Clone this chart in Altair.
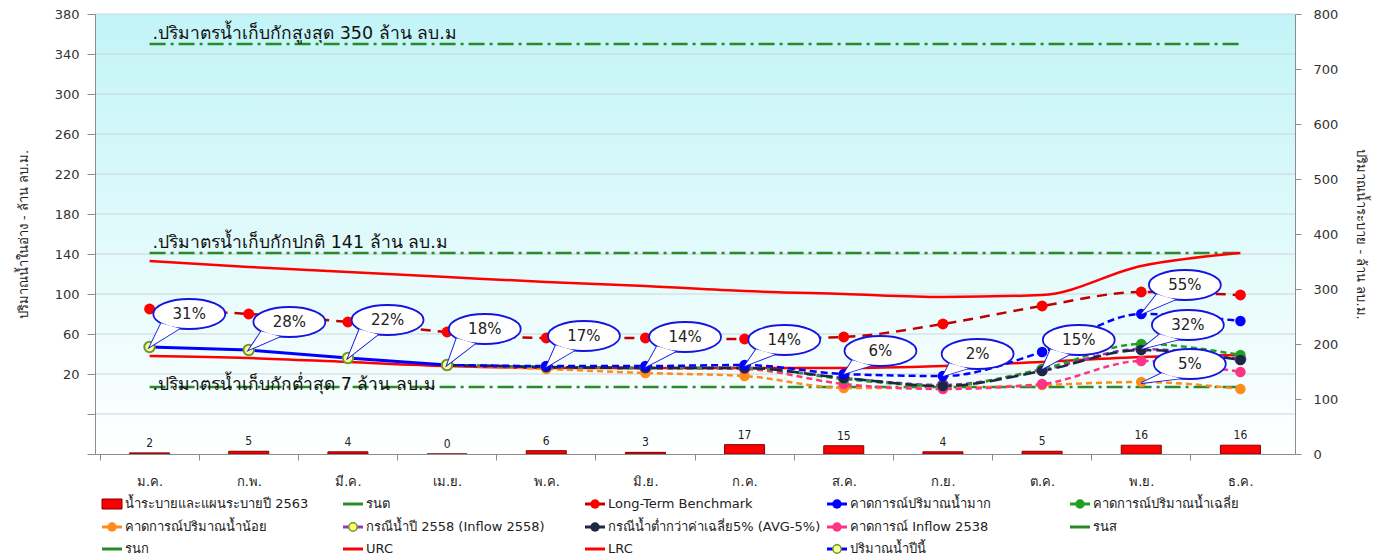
import math
import altair as alt
import pandas as pd

# ---------------- data ----------------
MONTHS = ["ม.ค.", "ก.พ.", "มี.ค.", "เม.ย.", "พ.ค.", "มิ.ย.", "ก.ค.", "ส.ค.", "ก.ย.", "ต.ค.", "พ.ย.", "ธ.ค."]
RELEASE = [2, 5, 4, 0, 6, 3, 17, 15, 4, 5, 16, 16]          # right axis
URC = [133, 127, 122, 117, 112, 108, 103, 100, 97, 99, 128, 141]
LRC = [38, 36, 32, 28, 26, 26, 26, 26, 28, 32, 37, 39]
BENCH = [85, 80, 72, 62, 56, 56, 55, 57, 70, 88, 102, 99]
CURRENT = [47, 44, 36, 29]                                    # ม.ค. - เม.ย.
FC_START = 3                                                  # forecasts start at เม.ย.
HIGH = [29, 28, 28, 29, 20, 18, 42, 80, 73]
AVG = [29, 27, 26, 26, 15, 8, 25, 50, 39]
LOW = [29, 25, 21, 18, 6, 6, 9, 12, 5]
Y2558 = [29, 27, 26, 26, 16, 9, 24, 45, 35]
AVG5 = [29, 27, 26, 26, 16, 8, 23, 44, 34]
INF2538 = [29, 27, 26, 25, 10, 5, 10, 33, 22]

THRESH_VALUES = [350, 141, 7]
THRESH_TEXT = [".ปริมาตรน้ำเก็บกักสูงสุด 350 ล้าน ลบ.ม",
               ".ปริมาตรน้ำเก็บกักปกติ 141 ล้าน ลบ.ม",
               ".ปริมาตรน้ำเก็บกักต่ำสุด 7 ล้าน ลบ.ม"]

CALL_TEXT = ["31%", "28%", "22%", "18%", "17%", "14%", "14%", "6%", "2%", "15%", "55%", "32%", "5%"]
CALL_MONTH = [0, 1, 2, 3, 4, 5, 6, 7, 8, 9, 10, 10, 10]
CALL_ANCHOR = [47, 44, 36, 29, 27, 27, 28, 20, 18, 25, 80, 45, 11]
CALL_BUBBLE = [80, 72, 74, 65, 58, 57, 54, 43, 40, 54, 109, 69, 30]
CALL_DX = [40, 41, 40, 38, 38, 40, 40, 37, 35, 37, 44, 47, 49]

LEFT_TITLE = "ปริมาณน้ำในอ่าง - ล้าน ลบ.ม."
RIGHT_TITLE = "ปริมาณน้ำระบาย - ล้าน ลบ.ม."
LEFT_TICKS = list(range(-60, 381, 40))
RIGHT_TICKS = list(range(0, 801, 100))

# ---------------- geometry / style ----------------
W, H = 1200, 440
Y_MIN, Y_MAX, R_MAX = -60, 380, 800
PX_Y = H / (Y_MAX - Y_MIN)
PX_X = W / len(MONTHS)
FONT = "DejaVu Sans"
NARROW = "DejaVu Sans Condensed, Liberation Sans Narrow, Liberation Sans, sans-serif"
GREEN = "#2A8A2A"
RED = "#FF0000"
AXIS_GRAY = "#8C8C8C"
PAD_LEFT, PAD_TOP = 87, 6


def x_scale():
    return alt.Scale(domain=[-0.5, len(MONTHS) - 0.5], nice=False, zero=False)


def y_scale():
    return alt.Scale(domain=[Y_MIN, Y_MAX], nice=False, zero=False)


def r_scale():
    return alt.Scale(domain=[0, R_MAX], nice=False, zero=False)


def x_axis():
    return alt.Axis(
        values=list(range(len(MONTHS))), labelExpr=f"{MONTHS}[datum.value]",
        tickOffset=-PX_X / 2, labelOffset=PX_X / 2, title=None, grid=False, zindex=1,
        domainColor=AXIS_GRAY, tickColor=AXIS_GRAY, tickSize=6, labelPadding=15,
        labelFontSize=13, labelColor="#222222", labelFont=FONT)


def xq(field="m"):
    return alt.X(f"{field}:Q", scale=x_scale(), axis=x_axis())


def yq(field="v"):
    return alt.Y(f"{field}:Q", scale=y_scale(), axis=None)


def series_df(start, values):
    return pd.DataFrame({"m": list(range(start, start + len(values))), "v": values})


layers = []

# background gradient
bg = alt.Chart(pd.DataFrame({"a": [0]})).mark_rect(
    fill=alt.LinearGradient(
        gradient="linear",
        stops=[alt.GradientStop(color="#C2F4F7", offset=0),
               alt.GradientStop(color="#E6FBFC", offset=0.6),
               alt.GradientStop(color="#FFFFFF", offset=1)],
        x1=0, x2=0, y1=0, y2=1)
).encode(x=alt.value(0), x2=alt.value(W), y=alt.value(0), y2=alt.value(H))
layers.append(bg)

# grid
grid = alt.Chart(pd.DataFrame({"v": LEFT_TICKS[1:]})).mark_rule(
    color="#CBD5D5", strokeWidth=1
).encode(x=alt.value(0), x2=alt.value(W), y=yq())
layers.append(grid)

# threshold dash-dot lines
th_df = pd.DataFrame({"v": THRESH_VALUES, "t": THRESH_TEXT,
                      "m0": [0] * 3, "m1": [len(MONTHS) - 1] * 3})
layers.append(alt.Chart(th_df).mark_rule(color=GREEN, strokeWidth=2.5, strokeDash=[16, 5, 3, 5])
              .encode(x=xq("m0"), x2="m1:Q", y=yq()))
for i, dy in enumerate([-5, -5, 3]):
    layers.append(alt.Chart(th_df.iloc[[i]]).mark_text(
        align="left", baseline="alphabetic", dx=3, dy=dy, fontSize=17.5, font=FONT, color="#111111"
    ).encode(x=xq("m0"), y=yq(), text="t:N"))

# URC / LRC
for vals in (URC, LRC):
    layers.append(alt.Chart(series_df(0, vals)).mark_line(
        color=RED, strokeWidth=2.5, interpolate="monotone").encode(x=xq(), y=yq()))

# forecasts
FORECASTS = [
    (Y2558, "#9933CC", [6, 4], "#FFFF66"),
    (LOW, "#FF8C1A", [6, 4], None),
    (INF2538, "#FF3385", [6, 4], None),
    (AVG, "#22A022", [6, 4], None),
    (AVG5, "#1C2841", [12, 5], None),
    (HIGH, "#0000FF", [7, 4], None),
]
for vals, col, dash, fillc in FORECASTS:
    df = series_df(FC_START, vals)
    layers.append(alt.Chart(df).mark_line(color=col, strokeWidth=2.5, strokeDash=dash,
                                          interpolate="monotone").encode(x=xq(), y=yq()))
for vals, col, dash, fillc in FORECASTS:
    df = series_df(FC_START, vals)
    if fillc:
        pt = alt.Chart(df).mark_point(shape="circle", size=100, filled=True, fill=fillc,
                                      stroke=col, strokeWidth=2, opacity=1)
    else:
        pt = alt.Chart(df).mark_point(shape="circle", size=110, filled=True, color=col, opacity=1)
    layers.append(pt.encode(x=xq(), y=yq()))

# long-term benchmark
bdf = series_df(0, BENCH)
layers.append(alt.Chart(bdf).mark_line(color="#C00000", strokeWidth=2.5, strokeDash=[10, 7],
                                       interpolate="monotone").encode(x=xq(), y=yq()))
layers.append(alt.Chart(bdf).mark_point(shape="circle", size=120, filled=True, color=RED, opacity=1)
              .encode(x=xq(), y=yq()))

# current year
cdf = series_df(0, CURRENT)
layers.append(alt.Chart(cdf).mark_line(color="#0000FF", strokeWidth=3).encode(x=xq(), y=yq()))
layers.append(alt.Chart(cdf).mark_point(shape="circle", size=110, filled=True, fill="#FFFF99",
                                        stroke="#6A9A2A", strokeWidth=2, opacity=1)
              .encode(x=xq(), y=yq()))

# callouts
RX, RY = 36, 15


def ellipse_path():
    return f"M{-RX},0 A{RX},{RY} 0 1,0 {RX},0 A{RX},{RY} 0 1,0 {-RX},0 Z"


def pointer_path(bx, by):
    pts = []
    for ang in (106, 142):
        a = math.radians(ang)
        pts.append((bx + RX * math.cos(a), by + RY * math.sin(a)))
    return f"M0,0 L{pts[0][0]:.1f},{pts[0][1]:.1f} L{pts[1][0]:.1f},{pts[1][1]:.1f} Z"


call_df = pd.DataFrame({
    "m": CALL_MONTH, "v": CALL_ANCHOR, "t": CALL_TEXT, "bv": CALL_BUBBLE,
    "bm": [m + dx / PX_X for m, dx in zip(CALL_MONTH, CALL_DX)],
    "ptr": [pointer_path(dx, -(b - a) * PX_Y) for dx, b, a in zip(CALL_DX, CALL_BUBBLE, CALL_ANCHOR)],
    "ell": [ellipse_path()] * len(CALL_TEXT),
})
layers.append(alt.Chart(call_df).mark_point(filled=True, fill="white", stroke="#1515E0",
                                            strokeWidth=1.8, opacity=1, size=4)
              .encode(x=xq(), y=yq(), shape=alt.Shape("ptr:N", scale=None)))
layers.append(alt.Chart(call_df).mark_point(filled=True, fill="white", stroke="#1515E0",
                                            strokeWidth=1.8, opacity=1, size=4)
              .encode(x=xq("bm"), y=yq("bv"), shape=alt.Shape("ell:N", scale=None)))
layers.append(alt.Chart(call_df).mark_point(filled=True, fill="white", strokeWidth=0,
                                            opacity=1, size=4)
              .encode(x=xq(), y=yq(), shape=alt.Shape("ptr:N", scale=None)))
layers.append(alt.Chart(call_df).mark_text(fontSize=15, font=FONT, color="#222222", baseline="middle")
              .encode(x=xq("bm"), y=yq("bv"), text="t:N"))

# ---------------- manual legend ----------------
LEGEND = [
    ("น้ำระบายและแผนระบายปี 2563", "bar", RED, None),
    ("รนต", "line", GREEN, None),
    ("Long-Term Benchmark", "dot", RED, "#C00000"),
    ("คาดการณ์ปริมาณน้ำมาก", "dot", "#0000FF", None),
    ("คาดการณ์ปริมาณน้ำเฉลี่ย", "dot", "#22A022", None),
    ("คาดการณ์ปริมาณน้ำน้อย", "dot", "#FF8C1A", None),
    ("กรณีน้ำปี 2558 (Inflow 2558)", "circle", "#9933CC", "#FFFF66"),
    ("กรณีน้ำต่ำกว่าค่าเฉลี่ย5% (AVG-5%)", "dot", "#1C2841", None),
    ("คาดการณ์ Inflow 2538", "dot", "#FF3385", None),
    ("รนส", "line", GREEN, None),
    ("รนก", "line", GREEN, None),
    ("URC", "line", RED, None),
    ("LRC", "line", RED, None),
    ("ปริมาณน้ำปีนี้", "circle", "#0000FF", "#FFFF99"),
]
COL_X = [102, 343, 585, 827, 1070]   # page px
ROW_Y = [504, 527, 549]
ORIGIN_X, ORIGIN_Y = 8 + PAD_LEFT, 8 + PAD_TOP
leg = pd.DataFrame({
    "label": [e[0] for e in LEGEND],
    "kind": [e[1] for e in LEGEND],
    "col": [e[2] for e in LEGEND],
    "lcol": [e[3] if (e[3] and e[1] == "dot") else e[2] for e in LEGEND],
    "fillc": [e[3] if e[1] == "circle" else e[2] for e in LEGEND],
})
leg["lx"] = [COL_X[i % 5] - ORIGIN_X for i in range(len(LEGEND))]
leg["ly"] = [ROW_Y[i // 5] - ORIGIN_Y for i in range(len(LEGEND))]
leg["lx2"] = leg["lx"] + 20
leg["lxm"] = leg["lx"] + 10
leg["lxt"] = leg["lx"] + 23
leg["ly0"] = leg["ly"] - 5
leg["ly1"] = leg["ly"] + 5

PX = lambda f: alt.X(f"{f}:Q", scale=None)
PY = lambda f: alt.Y(f"{f}:Q", scale=None)
lg = alt.Chart(leg)
layers.append(lg.transform_filter("datum.kind != 'bar'").mark_rule(strokeWidth=3)
              .encode(x=PX("lx"), x2="lx2:Q", y=PY("ly"), color=alt.Color("lcol:N", scale=None)))
layers.append(lg.transform_filter("datum.kind == 'bar'").mark_rect(stroke="#7F0000", strokeWidth=1)
              .encode(x=PX("lx"), x2="lx2:Q", y=PY("ly0"), y2="ly1:Q", color=alt.Color("col:N", scale=None)))
layers.append(lg.transform_filter("datum.kind == 'dot'").mark_point(shape="circle", size=90, filled=True, opacity=1)
              .encode(x=PX("lxm"), y=PY("ly"), color=alt.Color("col:N", scale=None)))
layers.append(lg.transform_filter("datum.kind == 'circle'").mark_point(shape="circle", size=70, filled=True,
                                                                      opacity=1, strokeWidth=1.5, stroke="#6A9A2A")
              .encode(x=PX("lxm"), y=PY("ly"), fill=alt.Fill("fillc:N", scale=None)))
layers.append(lg.mark_text(align="left", baseline="middle", fontSize=13, font=FONT, color="#222222")
              .encode(x=PX("lxt"), y=PY("ly"), text="label:N"))

# ---------------- left axis carrier ----------------
axis_df = pd.DataFrame({"m": [0], "v": [0]})
left_axis = alt.Chart(axis_df).mark_point(opacity=0).encode(
    x=xq(),
    y=alt.Y("v:Q", scale=y_scale(), axis=alt.Axis(
        values=LEFT_TICKS, labelExpr="datum.value < 0 ? '' : datum.label",
        title=LEFT_TITLE, grid=False, domainColor=AXIS_GRAY, tickColor=AXIS_GRAY, zindex=1,
        tickSize=8, labelPadding=8, labelFontSize=13, labelColor="#333333", labelFont=FONT,
        titleFontSize=13, titleFontWeight="normal", titleColor="#222222", titlePadding=24,
        titleFont=FONT)),
)
layers.append(left_axis)

# ---------------- right axis: releases ----------------
rel_df = pd.DataFrame({"m": list(range(len(MONTHS))), "r": RELEASE})
bars = alt.Chart(rel_df).mark_bar(width=40, color=RED, stroke="#7F0000", strokeWidth=1).encode(
    x=xq(),
    y=alt.Y("r:Q", scale=r_scale(), axis=alt.Axis(
        orient="right", values=RIGHT_TICKS, title=RIGHT_TITLE, titleAngle=90, grid=False, zindex=1,
        domainColor=AXIS_GRAY, tickColor=AXIS_GRAY, tickSize=6, labelPadding=12,
        labelFontSize=13, labelColor="#333333", labelFont=FONT,
        titleFontSize=13, titleFontWeight="normal", titleColor="#222222", titlePadding=16,
        titleFont=FONT)),
    y2=alt.datum(0),
)
bar_text = alt.Chart(rel_df).mark_text(dy=-10, fontSize=12, font=NARROW, color="#222222").encode(
    x=xq(),
    y=alt.Y("r:Q", scale=r_scale(), axis=None),
    text="r:Q",
)
layers.append(bars)
layers.append(bar_text)

chart = alt.layer(*layers).resolve_scale(y="independent").properties(
    width=W, height=H,
    autosize=alt.AutoSizeParams(type="none"),
    padding={"left": PAD_LEFT, "top": PAD_TOP, "right": 93, "bottom": 102},
    background="white",
).configure_view(stroke=None)

chart.save("out.html", embed_options={"renderer": "svg", "actions": False})
